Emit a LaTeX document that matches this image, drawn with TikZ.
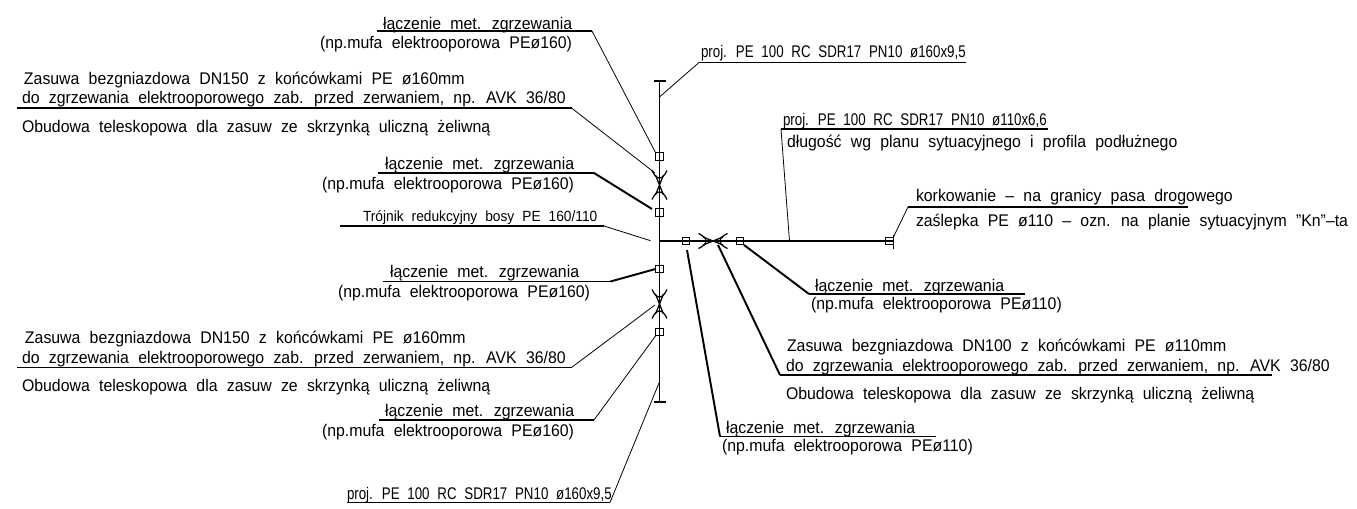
\documentclass[tikz,border=0pt]{standalone}
\usepackage{fontspec}
\setmainfont[WordSpace=2.1]{Liberation Sans}
\usepackage{tikz}

\tikzset{
  pipe/.style={line width=1pt},
  pipeend/.style={line width=.7pt},
  leader/.style={line width=.45pt},
  leaderb/.style={line width=1.1pt},
  shelf/.style={line width=.6pt},
  socket/.style={draw,line width=.6pt,minimum size=4.5pt,inner sep=0pt,outer sep=0pt},
  lbl/.style={anchor=base west,inner sep=0pt,outer sep=0pt,xscale=.94,font=\fontsize{9.6}{10}\selectfont},
  lblproj/.style={lbl,xscale=.84},
  lblsmall/.style={lbl,xscale=.99,font=\fontsize{8.4}{10}\selectfont},
  valve/.pic={
    \draw[line width=.7pt] (-4,-10) -- (4,10) (4,-10) -- (-4,10);
    \draw[line width=.7pt] (-7.5,-14.5) .. controls (-3,-4.5) and (3,-4.5) .. (7.5,-14.5);
    \draw[line width=.7pt] (-7.5,14.5) .. controls (-3,4.5) and (3,4.5) .. (7.5,14.5);
  },
}

\begin{document}
\begin{tikzpicture}[x=.02cm,y=-.02cm]
\useasboundingbox (0,0) rectangle (1357,509);
% pipes
\coordinate (top) at (659.5,81);
\coordinate (bot) at (659.5,402);
\coordinate (tee) at (659.5,241);
\coordinate (end) at (893.5,241);
\draw[pipe] (top) -- (bot);
\draw[pipe] (tee) -- (end);
\draw[pipeend] (653.5,81) -- (666,81);
\draw[pipeend] (653.5,402) -- (666,402);
\draw[pipeend] (893.5,235) -- (893.5,249);
% valves
\pic at (659.5,185) {valve};
\pic at (659.5,304) {valve};
\pic[rotate=90] at (713,241) {valve};
\coordinate (vtop) at (655,173);
\coordinate (vbot) at (655,305);
\coordinate (vright) at (718,245);
% sockets
\node[socket] (s1) at (659.5,156.5) {};
\node[socket] (s2) at (659.5,212.5) {};
\node[socket] (s3) at (659.5,269) {};
\node[socket] (s4) at (659.5,332) {};
\node[socket] (s5) at (686,241) {};
\node[socket] (s6) at (740,241) {};
\node[socket] (s7) at (889.5,241) {};
% left side, top
\node[lbl] (l1) at (383,30) {łączenie met. zgrzewania};
\node[lbl] (l1b) at (320,49) {(np.mufa elektrooporowa PEø160)};
\coordinate (a1) at (592,31);
\draw[shelf] (377,31) -- (a1);
\draw[leader] (a1) -- (s1.north west);
\node[lbl] (z1) at (24,85) {Zasuwa bezgniazdowa DN150 z końcówkami PE ø160mm};
\node[lbl] (z1b) at (22,104) {do zgrzewania elektrooporowego zab. przed zerwaniem, np. AVK 36/80};
\node[lbl] (z1c) at (22,133) {Obudowa teleskopowa dla zasuw ze skrzynką uliczną żeliwną};
\coordinate (a2) at (571.5,108);
\draw[shelf] (17,108) -- (a2);
\draw[leader] (a2) -- (vtop);
\node[lbl] (l2) at (385,170) {łączenie met. zgrzewania};
\node[lbl] (l2b) at (322,190) {(np.mufa elektrooporowa PEø160)};
\coordinate (a3) at (594,173);
\draw[shelf] (378,173) -- (a3);
\draw[leaderb] (a3) -- (652,209);
\node[lblsmall] (t1) at (363,222) {Trójnik redukcyjny bosy PE 160/110};
\coordinate (a4) at (604,226);
\draw[shelf] (340,226) -- (a4);
\draw[leader] (a4) -- (650.5,240.7);
% left side, bottom
\node[lbl] (l3) at (390,278) {łączenie met. zgrzewania};
\node[lbl] (l3b) at (338,297.5) {(np.mufa elektrooporowa PEø160)};
\coordinate (a5) at (610.5,281.5);
\draw[shelf] (382.5,281.5) -- (a5);
\draw[leaderb] (a5) -- (s3.west);
\node[lbl] (z2) at (25,344) {Zasuwa bezgniazdowa DN150 z końcówkami PE ø160mm};
\node[lbl] (z2b) at (22,363.5) {do zgrzewania elektrooporowego zab. przed zerwaniem, np. AVK 36/80};
\node[lbl] (z2c) at (22,391.5) {Obudowa teleskopowa dla zasuw ze skrzynką uliczną żeliwną};
\coordinate (a6) at (571.5,367.5);
\draw[shelf] (17,367.5) -- (a6);
\draw[leader] (a6) -- (vbot);
\node[lbl] (l4) at (385,417) {łączenie met. zgrzewania};
\node[lbl] (l4b) at (322,436.5) {(np.mufa elektrooporowa PEø160)};
\coordinate (a7) at (594,420);
\draw[shelf] (379,420) -- (a7);
\draw[leader] (a7) -- (s4.south west);
\node[lblproj] (p1) at (347,500) {proj. PE 100 RC SDR17 PN10 ø160x9,5};
\coordinate (a8) at (610,502.5);
\draw[shelf] (347,502.5) -- (a8);
\draw[leader] (a8) -- (659,383);
% right side
\node[lblproj] (p2) at (701,58) {proj. PE 100 RC SDR17 PN10 ø160x9,5};
\coordinate (a9) at (699,62.5);
\draw[shelf] (a9) -- (966,62.5);
\draw[leader] (a9) -- (659.5,97);
\node[lblproj] (p3) at (783,126) {proj. PE 100 RC SDR17 PN10 ø110x6,6};
\node[lbl] (p3b) at (787,148) {długość wg planu sytuacyjnego i profila podłużnego};
\coordinate (a10) at (781,129);
\draw[shelf] (a10) -- (1048,129);
\draw[leader] (a10) -- (789.5,241);
\node[lbl] (k1) at (916,202) {korkowanie -- na granicy pasa drogowego};
\node[lbl] (k1b) at (916,226.5) {zaślepka PE ø110 -- ozn. na planie sytuacyjnym "Kn"--ta};
\coordinate (a11) at (908,207);
\draw[shelf] (a11) -- (1188,207);
\draw[leader] (a11) -- (s7.north east);
\node[lbl] (l5) at (815,291.5) {łączenie met. zgrzewania};
\node[lbl] (l5b) at (811,310) {(np.mufa elektrooporowa PEø110)};
\coordinate (a12) at (809,294);
\draw[shelf] (a12) -- (1025,294);
\draw[leaderb] (a12) -- (s6.south east);
\node[lbl] (z3) at (787,351.5) {Zasuwa bezgniazdowa DN100 z końcówkami PE ø110mm};
\node[lbl] (z3b) at (786,371.5) {do zgrzewania elektrooporowego zab. przed zerwaniem, np. AVK 36/80};
\node[lbl] (z3c) at (786,400) {Obudowa teleskopowa dla zasuw ze skrzynką uliczną żeliwną};
\coordinate (a13) at (780,375);
\draw[shelf] (a13) -- (1271.5,375);
\draw[leaderb] (a13) -- (vright);
\node[lbl] (l6) at (726,434) {łączenie met. zgrzewania};
\node[lbl] (l6b) at (722,452) {(np.mufa elektrooporowa PEø110)};
\coordinate (a14) at (720,436.5);
\draw[shelf] (a14) -- (935.5,436.5);
\draw[leaderb] (a14) -- (687,250);
\end{tikzpicture}
\end{document}
